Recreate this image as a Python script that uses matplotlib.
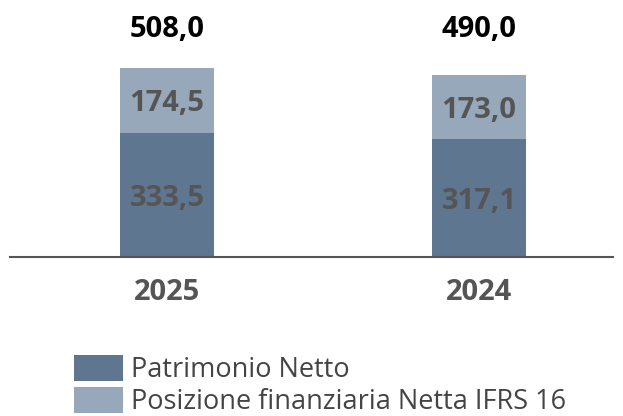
import matplotlib
matplotlib.use("Agg")
import matplotlib.pyplot as plt
from matplotlib.patches import Patch

categories = ["2025", "2024"]
patrimonio = [333.5, 317.1]
posizione = [174.5, 173.0]
totals = [508.0, 490.0]
series_names = ["Patrimonio Netto", "Posizione finanziaria Netta IFRS 16"]

c_dark = "#5f7691"
c_light = "#97a8ba"
txt_gray = "#555555"

plt.rcParams['font.family'] = ['Open Sans', 'DejaVu Sans']

W, H = 623, 416
fig = plt.figure(figsize=(W/100, H/100), dpi=100)
base_px = 256.7
ax = fig.add_axes([10/W, (H-base_px)/H, 603/W, base_px/H])
x = list(range(len(categories)))
width = 0.301
ax.bar(x, patrimonio, width, color=c_dark)
ax.bar(x, posizione, width, bottom=patrimonio, color=c_light)
ax.set_xlim(-0.503, 1.429)
ax.set_ylim(0, base_px/0.3714)
for s in ["top", "right", "left"]:
    ax.spines[s].set_visible(False)
ax.spines["bottom"].set_color("#555555")
ax.spines["bottom"].set_linewidth(1.5)
ax.set_yticks([])
ax.set_xticks([])

fs_big = 21
fw = "bold"
for i in x:
    ax.text(i, patrimonio[i]/2, f"{patrimonio[i]:.1f}".replace(".", ","),
            ha="center", va="center_baseline", fontsize=fs_big, fontweight=fw, color=txt_gray)
    ax.text(i, patrimonio[i] + posizione[i]/2, f"{posizione[i]:.1f}".replace(".", ","),
            ha="center", va="center_baseline", fontsize=fs_big, fontweight=fw, color=txt_gray)
    ax.text(i, (base_px-26)/base_px, f"{totals[i]:.1f}".replace(".", ","),
            transform=ax.get_xaxis_transform(), ha="center", va="center_baseline",
            fontsize=fs_big, fontweight=fw, color="black")
    ax.text(i, -(289-base_px)/base_px, categories[i],
            transform=ax.get_xaxis_transform(), ha="center", va="center_baseline",
            fontsize=fs_big, fontweight=fw, color=txt_gray)

handles = [Patch(facecolor=c_dark, edgecolor="none"), Patch(facecolor=c_light, edgecolor="none")]
fs_leg = 19.5
fig.legend(handles, series_names, loc="upper left", bbox_to_anchor=(74/W, 1-355/H),
           frameon=False, fontsize=fs_leg, handlelength=1.81, handleheight=1.11,
           handletextpad=0.3, labelspacing=0.1, borderpad=0, borderaxespad=0,
           labelcolor="#444444")

fig.savefig("out.png", dpi=100)
